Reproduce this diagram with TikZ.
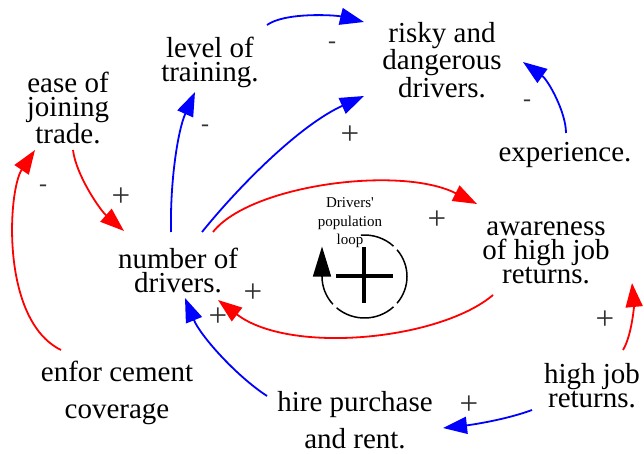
\documentclass[tikz,border=0pt]{standalone}
\usepackage{fontspec}
\setmainfont{Liberation Serif}
\usetikzlibrary{arrows.meta,calc}
\begin{document}
\begin{tikzpicture}[x=1pt,y=-1pt,
  lbl/.style={align=center,inner sep=0pt,font=\fontsize{29}{24}\selectfont},
  lblw/.style={align=center,inner sep=0pt,font=\fontsize{29}{37}\selectfont},
  sgn/.style={inner sep=0pt,font=\fontsize{24}{24}\selectfont,text=black!80},
  sgnp/.style={inner sep=0pt,font=\fontsize{33}{33}\selectfont,text=black!80},
  conn/.style={line width=1.8pt,-{Triangle[length=24pt,width=17pt]}},
  rline/.style={conn,draw=red},
  bline/.style={conn,draw=blue},
  loopline/.style={line width=1.5pt}]
\useasboundingbox (0,0) rectangle (644,454);
% nodes
\node[lbl] (ease) at (68,108) {ease of\\joining\\trade.};
\node[lbl] (lvl) at (210,62) {level of\\training.};
\node[lbl] (risky) at (442,60) {risky and\\dangerous\\drivers.};
\node[lbl] (exp) at (565,155) {experience.};
\node[lbl] (aware) at (546,253) {awareness\\of high job\\returns.};
\node[lbl] (ntd) at (178,270) {number of\\drivers.};
\node[lblw] (enf) at (117,393) {enfor cement\\coverage};
\node[lblw] (hire) at (355,420) {hire purchase\\and rent.};
\node[lbl] (hjr) at (592,386) {high job\\returns.};
% connectors
\draw[bline] ($(lvl)+(57,-37)$) .. controls +(18,-13) and +(-29,-7) .. ($(risky)+(-78,-38)$);
\draw[bline] ($(ntd)+(-7,-38)$) .. controls +(-1,-52) and +(-17,38) .. ($(lvl)+(-15,30)$);
\draw[bline] ($(ntd)+(24,-38)$) .. controls +(38,-47) and +(-64,29) .. ($(risky)+(-78,36)$);
\draw[bline] ($(exp)+(1,-22)$) .. controls +(0,-21) and +(25,18) .. ($(risky)+(81,2)$);
\draw[rline] ($(ease)+(5,42)$) .. controls +(3,25) and +(-24,-21) .. ($(ntd)+(-54,-39)$);
\draw[rline] ($(enf)+(-56,-43)$) .. controls +(-61,-30) and +(-27,40) .. ($(ease)+(-33,42)$);
\draw[rline] ($(ntd)+(35,-38)$) .. controls +(37,-47) and +(-77,-39) .. ($(aware)+(-69,-49)$);
\draw[rline] ($(aware)+(-53,42)$) .. controls +(-53,45) and +(72,55) .. ($(ntd)+(40,30)$);
\draw[bline] ($(hire)+(-88,-24)$) .. controls +(-32,-21) and +(15,37) .. ($(ntd)+(7,28)$);
\draw[rline] ($(hjr)+(31,-36)$) .. controls +(9,-15) and +(2,22) .. ($(aware)+(86,30)$);
\draw[bline] ($(hjr)+(-60,24)$) .. controls +(-27,10) and +(27,-3) .. ($(hire)+(88,8)$);
% signs
\node[sgn] (s1) at (332,45) {-};
\node[sgn] (s2) at (205,128) {-};
\node[sgnp] (s3) at (350,135) {+};
\node[sgn] (s4) at (527,103) {-};
\node[sgnp] (s5) at (121,197) {+};
\node[sgn] (s6) at (43,188) {-};
\node[sgnp] (s7) at (437,220) {+};
\node[sgnp] (s8) at (253,293) {+};
\node[sgnp] (s9) at (218,317) {+};
\node[sgnp] (s10) at (605,320) {+};
\node[sgnp] (s11) at (469,405) {+};
% loop symbol
\coordinate (lc) at (364.5,276.5);
\draw[loopline] ($(lc)+({42.5*cos(-95)},{41.5*sin(-95)})$) arc[start angle=-95,end angle=-47,x radius=42.5,y radius=41.5];
\draw[loopline] ($(lc)+({42.5*cos(-40)},{41.5*sin(-40)})$) arc[start angle=-40,end angle=40,x radius=42.5,y radius=41.5];
\draw[loopline] ($(lc)+({42.5*cos(47)},{41.5*sin(47)})$) arc[start angle=47,end angle=131,x radius=42.5,y radius=41.5];
\draw[loopline] ($(lc)+({42.5*cos(138)},{41.5*sin(138)})$) arc[start angle=138,end angle=180,x radius=42.5,y radius=41.5];
\draw[loopline,-{Triangle[length=30pt,width=18pt]}] ($(lc)+(-42.5,0)$) -- ($(lc)+(-42.5,-30)$);
\draw[line width=4pt] ($(lc)+(-28.5,-1)$) -- ($(lc)+(28.5,-1)$);
\draw[line width=4pt] ($(lc)+(-1,-29.5)$) -- ($(lc)+(-1,26.5)$);
\node[align=center,inner sep=0pt,font=\fontsize{15}{18.5}\selectfont] (looptxt) at (350,223) {Drivers\textquotesingle\\population\\loop};
\end{tikzpicture}
\end{document}
